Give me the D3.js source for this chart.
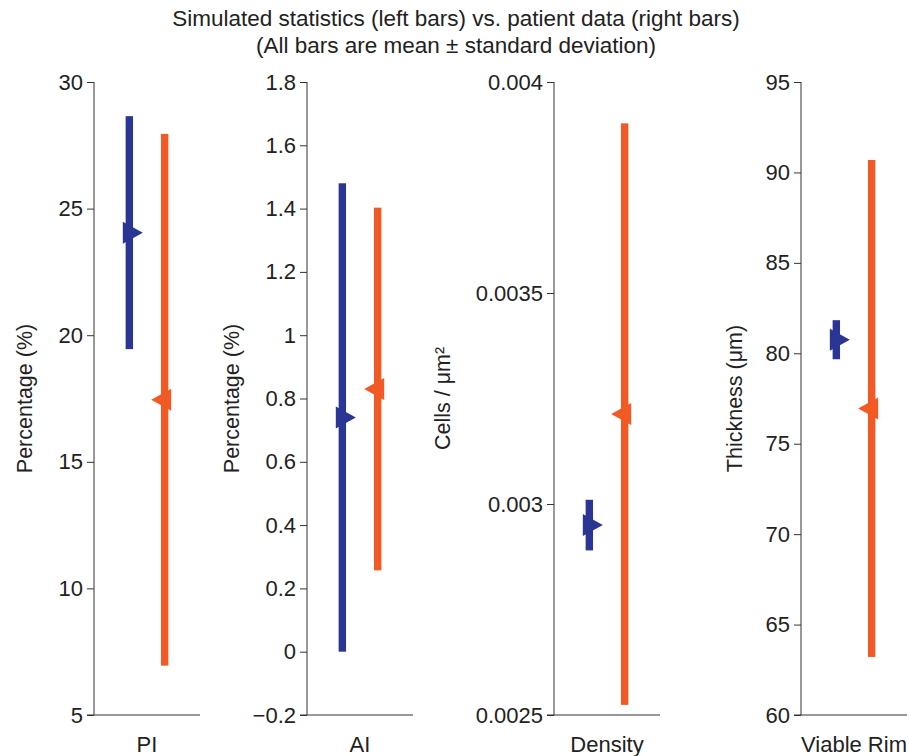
<!DOCTYPE html>
<html lang="en">
<head>
<meta charset="UTF-8" />
<title>Simulated vs patient statistics</title>
<script src="https://d3js.org/d3.v7.min.js"></script>
<style>
    body { margin: 0; background: #fff; font-family: 'Liberation Sans', Arial, sans-serif; }
    .axis path, .axis line { stroke: #333; }
    .axis text { font-size: 22px; fill: #222; font-family: 'Liberation Sans', Arial, sans-serif; }
</style>
</head>
<body>
<svg width="909" height="756"></svg>
<script>

// panel names and y-axis labels
var panels = ["PI", "AI", "Density", "Viable Rim"];
var yLabels = ["Percentage (%)", "Percentage (%)", "Cells / \u03bcm\u00b2", "Thickness (\u03bcm)"];

// simulated (left bars): mean and standard deviation
var simMean = [24.05, 0.74, 0.00295, 80.75];
var simSd   = [4.6, 0.74, 0.00006, 1.08];

// patient data (right bars)
var patMean = [17.45, 0.83, 0.003213, 76.95];
var patSd   = [10.5, 0.573, 0.000689, 13.74];

// y domains and ticks
var yDomains = [[5, 30], [-0.2, 1.8], [0.0025, 0.004], [60, 95]];
var yTicks = [
    [5, 10, 15, 20, 25, 30],
    [-0.2, 0, 0.2, 0.4, 0.6, 0.8, 1, 1.2, 1.4, 1.6, 1.8],
    [0.0025, 0.003, 0.0035, 0.004],
    [60, 65, 70, 75, 80, 85, 90, 95]
];

var svg = d3.select("svg");
var axisX = [94, 307, 554, 801],   // left edge of each panel
    panelW = 106,
    yTop = 82, yBottom = 715;
var blue = "#2b3593", orange = "#f15a24";

// title
svg.append("text").attr("x", 456).attr("y", 26).attr("text-anchor", "middle")
    .style("font-size", "22.5px").attr("fill", "#222")
    .text("Simulated statistics (left bars) vs. patient data (right bars)");
svg.append("text").attr("x", 456).attr("y", 53).attr("text-anchor", "middle")
    .style("font-size", "22.5px").attr("fill", "#222")
    .text("(All bars are mean \u00b1 standard deviation)");

var fmt = function(v) { return v < 0 ? "\u2212" + Math.abs(v) : "" + v; };
var labelX = [25, 232, 443, 735];

panels.forEach(function(name, i) {
    var g = svg.append("g").attr("transform", "translate(" + axisX[i] + ",0)");

    var xb = d3.scaleLinear().domain([0, 3]).range([0, panelW]);
    var y = d3.scaleLinear().domain(yDomains[i]).range([yBottom, yTop]);

    // y axis
    g.append("g").attr("class", "axis")
        .call(d3.axisLeft(y).tickValues(yTicks[i]).tickFormat(fmt).tickSize(7).tickSizeOuter(0).tickPadding(4))
        .call(function(s) { s.select(".domain").attr("d", "M0," + yTop + "V" + yBottom); });

    // bottom axis line
    g.append("line").attr("x1", -7).attr("x2", panelW)
        .attr("y1", yBottom).attr("y2", yBottom)
        .attr("stroke", "#333");

    g.append("text").attr("x", xb(1.5)).attr("y", 752).attr("text-anchor", "middle")
        .style("font-size", "22px").attr("fill", "#222").text(name);

    // y label
    svg.append("text")
        .attr("transform", "translate(" + (labelX[i] + 7) + "," + ((yTop + yBottom) / 2) + ") rotate(-90)")
        .attr("text-anchor", "middle").style("font-size", "21.5px").attr("fill", "#222")
        .text(yLabels[i]);

    var series = [
        {m: simMean[i], s: simSd[i], c: blue, pos: 1, dir: 1},
        {m: patMean[i], s: patSd[i], c: orange, pos: 2, dir: -1}
    ];
    series.forEach(function(d) {
        var cx = xb(d.pos);
        g.append("rect")
            .attr("x", cx - 3.7).attr("width", 7.4)
            .attr("y", y(d.m + d.s)).attr("height", y(d.m - d.s) - y(d.m + d.s))
            .attr("fill", d.c);
        var cy = y(d.m);
        var b = cx - 6.5 * d.dir, t = cx + 13.5 * d.dir;
        g.append("path")
            .attr("d", "M" + b + "," + (cy - 11) + "L" + t + "," + cy + "L" + b + "," + (cy + 11) + "Z")
            .attr("fill", d.c);
    });
});

</script>
</body>
</html>
